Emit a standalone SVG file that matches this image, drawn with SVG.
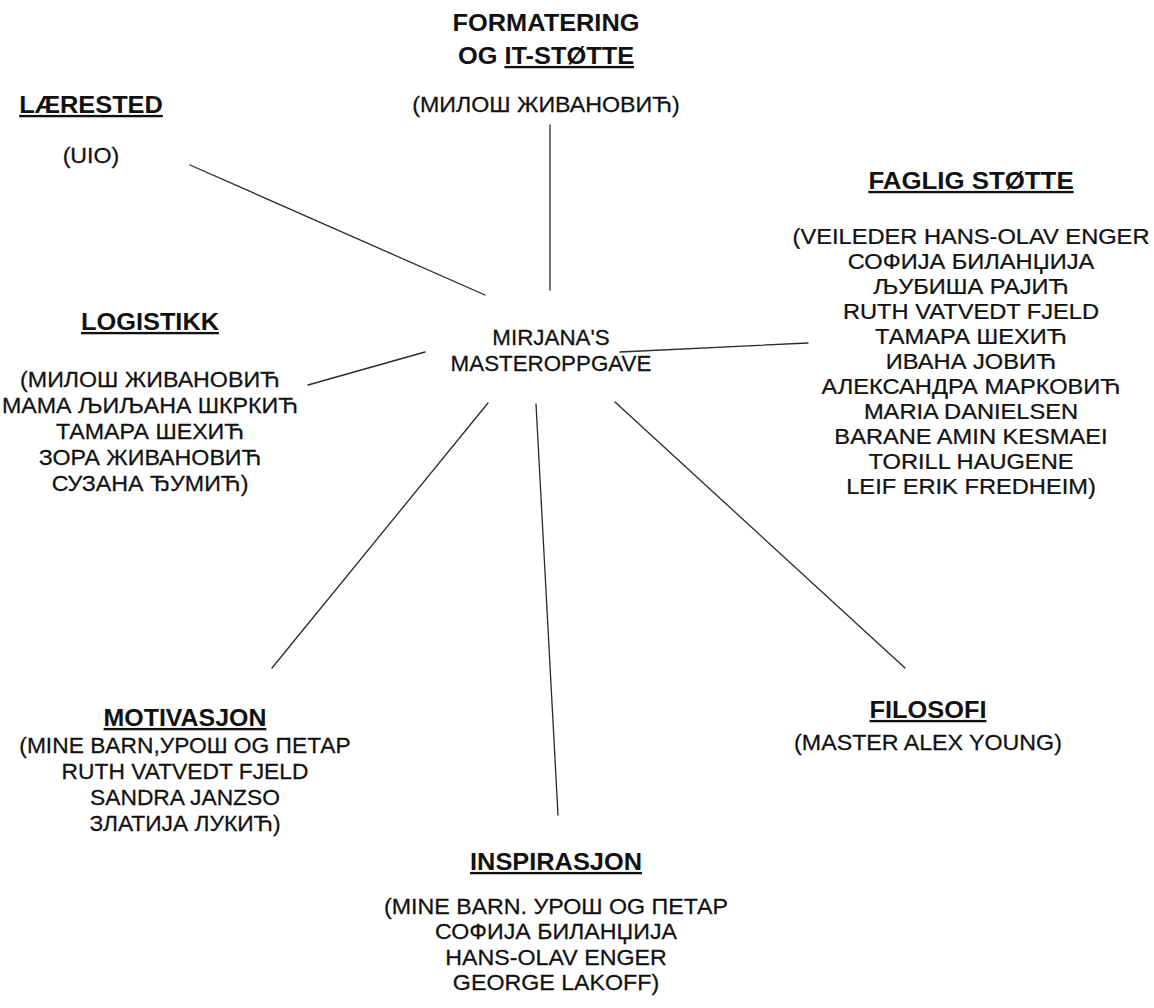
<svg xmlns="http://www.w3.org/2000/svg" width="1154" height="1008" viewBox="0 0 1154 1008">
  <style>
    text { font-family: "Liberation Sans", Arial, "Noto Sans", sans-serif; fill: #111111; text-anchor: middle; }
    .title { font-size: 23.5px; font-weight: bold; text-decoration: underline; }
    .title-plain { font-size: 23.5px; font-weight: bold; }
    .ul { text-decoration: underline; }
    .body { font-size: 21.5px; stroke: #111111; stroke-width: 0.25; }
    .link { stroke: #2a2a2a; stroke-width: 1.3; fill: none; stroke-linecap: round; }
  </style>
  <rect width="1154" height="1008" fill="#ffffff"/>

  <!-- spokes from the centre topic to each category -->
  <g id="connectors">
    <line class="link" x1="190" y1="165" x2="485" y2="295"/>
    <line class="link" x1="550" y1="125" x2="550" y2="290"/>
    <line class="link" x1="620" y1="352" x2="808" y2="343"/>
    <line class="link" x1="308" y1="385" x2="425" y2="352"/>
    <line class="link" x1="272" y1="668" x2="488" y2="403"/>
    <line class="link" x1="536" y1="404" x2="558" y2="815"/>
    <line class="link" x1="615" y1="402" x2="905" y2="668"/>
  </g>

  <g id="centre" transform="translate(551 0) scale(1.04 1)">
    <text class="body" x="0" y="345">MIRJANA'S</text>
    <text class="body" x="0" y="371">MASTEROPPGAVE</text>
  </g>

  <g id="formatering" transform="translate(546 0) scale(1.08 1)">
    <text class="title-plain" x="0" y="31">FORMATERING</text>
    <text class="title-plain" x="0" y="64">OG <tspan class="ul">IT-STØTTE</tspan></text>
    <text class="body" x="0" y="112">(МИЛОШ ЖИВАНОВИЋ)</text>
  </g>

  <g id="laerested" transform="translate(91 0) scale(1.08 1)">
    <text class="title" x="0" y="113">LÆRESTED</text>
    <text class="body" x="0" y="163">(UIO)</text>
  </g>

  <g id="faglig-stotte" transform="translate(971 0) scale(1.1 1)">
    <text class="title" x="0" y="189">FAGLIG STØTTE</text>
    <text class="body" x="0" y="244">(VEILEDER HANS-OLAV ENGER</text>
    <text class="body" x="0" y="269">СОФИЈА БИЛАНЏИЈА</text>
    <text class="body" x="0" y="294">ЉУБИША РАЈИЋ</text>
    <text class="body" x="0" y="319">RUTH VATVEDT FJELD</text>
    <text class="body" x="0" y="344">ТАМАРА ШЕХИЋ</text>
    <text class="body" x="0" y="369">ИВАНА ЈОВИЋ</text>
    <text class="body" x="0" y="394">АЛЕКСАНДРА МАРКОВИЋ</text>
    <text class="body" x="0" y="419">MARIA DANIELSEN</text>
    <text class="body" x="0" y="444">BARANE AMIN KESMAEI</text>
    <text class="body" x="0" y="469">TORILL HAUGENE</text>
    <text class="body" x="0" y="494">LEIF ERIK FREDHEIM)</text>
  </g>

  <g id="logistikk" transform="translate(150 0) scale(1.08 1)">
    <text class="title" x="0" y="330">LOGISTIKK</text>
    <text class="body" x="0" y="387">(МИЛОШ ЖИВАНОВИЋ</text>
    <text class="body" x="0" y="413">МАМА ЉИЉАНА ШКРКИЋ</text>
    <text class="body" x="0" y="439">ТАМАРА ШЕХИЋ</text>
    <text class="body" x="0" y="465">ЗОРА ЖИВАНОВИЋ</text>
    <text class="body" x="0" y="491">СУЗАНА ЂУМИЋ)</text>
  </g>

  <g id="motivasjon" transform="translate(185 0) scale(1.06 1)">
    <text class="title" x="0" y="726">MOTIVASJON</text>
    <text class="body" x="0" y="753">(MINE BARN,УРОШ OG ПЕТАР</text>
    <text class="body" x="0" y="779">RUTH VATVEDT FJELD</text>
    <text class="body" x="0" y="805">SANDRA JANZSO</text>
    <text class="body" x="0" y="831">ЗЛАТИЈА ЛУКИЋ)</text>
  </g>

  <g id="inspirasjon" transform="translate(556 0) scale(1.08 1)">
    <text class="title" x="0" y="870">INSPIRASJON</text>
    <text class="body" x="0" y="914">(MINE BARN. УРОШ OG ПЕТАР</text>
    <text class="body" x="0" y="939">СОФИЈА БИЛАНЏИЈА</text>
    <text class="body" x="0" y="965">HANS-OLAV ENGER</text>
    <text class="body" x="0" y="990">GEORGE LAKOFF)</text>
  </g>

  <g id="filosofi" transform="translate(928 0) scale(1.08 1)">
    <text class="title" x="0" y="718">FILOSOFI</text>
    <text class="body" x="0" y="750">(MASTER ALEX YOUNG)</text>
  </g>
</svg>
